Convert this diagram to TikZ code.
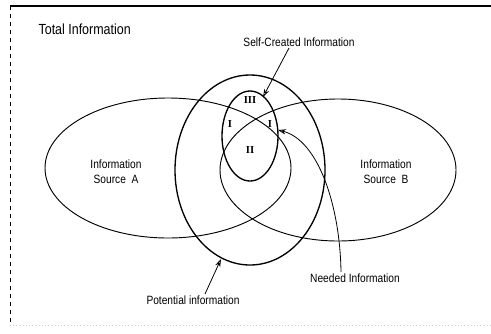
\documentclass[tikz,border=0pt]{standalone}
\usepackage{fontspec}
\setmainfont{Liberation Sans}[FakeStretch=0.85]
\newfontfamily\numfont{Liberation Serif}
\usetikzlibrary{arrows.meta}

\begin{document}
\begin{tikzpicture}[x=0.75pt,y=-0.75pt,
    lbl/.style={font=\fontsize{9}{11}\selectfont,align=center,inner sep=1pt},
    roman/.style={font=\numfont\bfseries\fontsize{8}{9}\selectfont,inner sep=0pt},
    pointer/.style={line width=0.6pt,-{Stealth[open,length=6pt,width=4pt]}}]
  \useasboundingbox (0,0) rectangle (491,333);

  % frame
  \draw[line width=1pt] (10,6) -- (491,6);
  \draw[dashed,line width=0.6pt] (10,6) -- (10,325);
  \draw[gray!40,dotted] (10,325) -- (491,325);

  % sources A and B, potential and needed
  \draw[line width=0.7pt] (168,168) ellipse (123 and 70);
  \draw[line width=0.7pt] (338,170) ellipse (118 and 71);
  \draw[line width=1pt] (250,170) ellipse (75 and 95);
  \draw[line width=1pt] (250,136) ellipse (28 and 45);

  \node[font=\fontsize{11}{13}\selectfont,anchor=west,inner sep=1pt] (title) at (37,29) {Total Information};
  \node[lbl] (selfcreated) at (299,42) {Self-Created Information};
  \node[lbl] (srcA) at (116,172) {Information\\Source\ \ A};
  \node[lbl] (srcB) at (386,172) {Information\\Source\ \ B};
  \node[lbl] (needed) at (355,278) {Needed Information};
  \node[lbl] (potential) at (193,300) {Potential information};

  % regions
  \node[roman] (r3) at (250,100) {III};
  \node[roman] (r1l) at (230,124) {I};
  \node[roman] (r1r) at (270,124) {I};
  \node[roman] (r2) at (250,150) {II};

  \coordinate (sctip) at (263,97);
  \coordinate (ndtip) at (278,130);
  \coordinate (pttip) at (221,259);

  \draw[pointer] (selfcreated.south) ++(-10,0) -- (sctip);
  \draw[pointer] (needed.north) ++(-14,0) .. controls (340,205) and (318,140) .. (ndtip);
  \draw[pointer] (potential.north) ++(12,0) -- (pttip);
\end{tikzpicture}
\end{document}
